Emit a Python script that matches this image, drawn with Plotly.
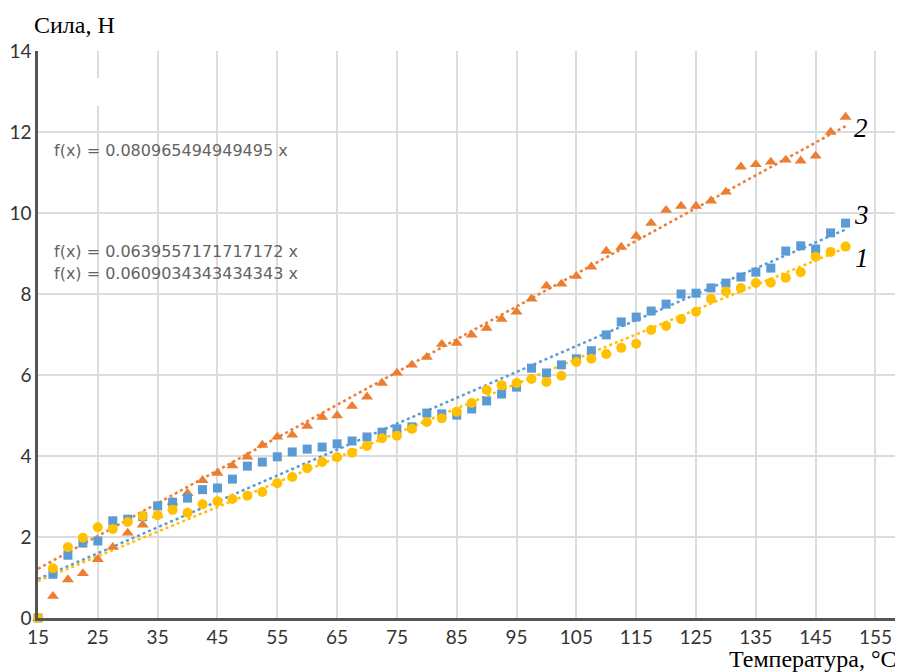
import plotly.graph_objects as go

x_vals = [15 + 2.5 * i for i in range(55)]

force_1 = [0, 1.23, 1.75, 1.98, 2.24, 2.2, 2.37, 2.52, 2.54, 2.67, 2.6, 2.81,
           2.88, 2.94, 3.02, 3.11, 3.33, 3.48, 3.7, 3.85, 3.97, 4.08, 4.25,
           4.44, 4.5, 4.67, 4.84, 4.93, 5.09, 5.31, 5.63, 5.75, 5.8, 5.9, 5.83,
           5.98, 6.32, 6.4, 6.52, 6.67, 6.77, 7.11, 7.21, 7.38, 7.56, 7.88, 8.06,
           8.15, 8.27, 8.28, 8.4, 8.54, 8.92, 9.04, 9.17]

force_2 = [0, 0.54, 0.95, 1.1, 1.45, 1.75, 2.1, 2.3, 2.54, 2.86, 3.08, 3.4,
           3.58, 3.76, 3.98, 4.27, 4.47, 4.52, 4.74, 4.96, 5.0, 5.23, 5.46,
           5.8, 6.05, 6.25, 6.44, 6.76, 6.79, 6.99, 7.16, 7.38, 7.56, 7.88, 8.2,
           8.25, 8.44, 8.67, 9.06, 9.16, 9.43, 9.75, 10.07, 10.17, 10.17, 10.3, 10.52,
           11.14, 11.2, 11.26, 11.31, 11.29, 11.41, 12.0, 12.37]

force_3 = [0, 1.08, 1.55, 1.85, 1.9, 2.4, 2.44, 2.5, 2.77, 2.86, 2.96, 3.17,
           3.21, 3.43, 3.75, 3.85, 3.98, 4.1, 4.17, 4.22, 4.3, 4.37, 4.47,
           4.59, 4.67, 4.72, 5.06, 5.04, 5.01, 5.16, 5.36, 5.53, 5.7, 6.17, 6.05,
           6.25, 6.4, 6.6, 6.99, 7.31, 7.43, 7.58, 7.75, 8.0, 8.02, 8.15, 8.27,
           8.42, 8.54, 8.64, 9.06, 9.19, 9.11, 9.51, 9.75]

slope_1 = 0.0609034343434343
slope_2 = 0.080965494949495
slope_3 = 0.0639557171717172

trend_x = [15, 150]

x_ticks = list(range(15, 156, 10))
y_ticks = list(range(0, 15, 2))

c_orange = "#ED7D31"
c_blue = "#5B9BD5"
c_yellow = "#FFC000"

fig = go.Figure()

for slope, col in [(slope_2, c_orange), (slope_3, c_blue), (slope_1, c_yellow)]:
    fig.add_trace(go.Scatter(
        x=trend_x, y=[slope * t for t in trend_x], mode="lines",
        line=dict(color=col, width=2.5, dash="dot"), showlegend=False,
        hoverinfo="skip"))

fig.add_trace(go.Scatter(x=x_vals, y=force_2, mode="markers",
                         marker=dict(symbol="triangle-up", size=10.5, color=c_orange),
                         cliponaxis=False, showlegend=False))
fig.add_trace(go.Scatter(x=x_vals, y=force_3, mode="markers",
                         marker=dict(symbol="square", size=9, color=c_blue),
                         cliponaxis=False, showlegend=False))
fig.add_trace(go.Scatter(x=x_vals, y=force_1, mode="markers",
                         marker=dict(symbol="circle", size=10, color=c_yellow),
                         cliponaxis=False, showlegend=False))

# page body has an 8px margin, so the figure is shrunk by 8px and offsets reduced
fig.update_layout(
    width=895, height=664,
    margin=dict(l=30, r=0, t=43, b=54, pad=0),
    paper_bgcolor="white", plot_bgcolor="white",
    xaxis=dict(range=[15, 159.6], tickmode="array", tickvals=x_ticks,
               ticktext=[str(v) for v in x_ticks],
               showgrid=True, gridcolor="#dcdcdc", gridwidth=1.5,
               showline=True, linecolor="#555555", linewidth=2.5,
               zeroline=False, ticks="",
               tickfont=dict(family="Lato", size=19, color="#333333")),
    yaxis=dict(range=[0, 14], tickmode="array", tickvals=y_ticks,
               ticktext=[str(v) for v in y_ticks],
               showgrid=True, gridcolor="#dcdcdc", gridwidth=1.5,
               showline=True, linecolor="#555555", linewidth=2.5,
               zeroline=False, ticks="",
               tickfont=dict(family="Lato", size=19, color="#333333")),
    shapes=[dict(type="rect", xref="x", yref="y", x0=21, x1=31, y0=12.65, y1=13.33,
                 fillcolor="white", line=dict(width=0), layer="between")],
)

ann_font = dict(family="DejaVu Sans", size=16, color="#636363")
fig.add_annotation(x=17.3, y=11.55, xref="x", yref="y", xanchor="left", yanchor="middle",
                   text="f(x) = 0.080965494949495 x", showarrow=False, font=ann_font)
fig.add_annotation(x=17.3, y=9.06, xref="x", yref="y", xanchor="left", yanchor="middle",
                   text="f(x) = 0.0639557171717172 x", showarrow=False, font=ann_font)
fig.add_annotation(x=17.3, y=8.5, xref="x", yref="y", xanchor="left", yanchor="middle",
                   text="f(x) = 0.0609034343434343 x", showarrow=False, font=ann_font)

lab_font = dict(family="Liberation Serif", size=27, color="black")
for lx, ly, txt in [(151.0, 12.1, "<i>2</i>"), (151.0, 9.95, "<i>3</i>"), (151.3, 8.9, "<i>1</i>")]:
    fig.add_annotation(x=lx, y=ly, xref="x", yref="y", xanchor="left", yanchor="middle",
                       text=txt, showarrow=False, font=lab_font)

title_font = dict(family="Liberation Serif", size=24, color="black")
plot_w, plot_h = 865.0, 567.0
fig.add_annotation(x=(32 - 38) / plot_w, y=(618 - 25) / plot_h, xref="paper", yref="paper",
                   xanchor="left", yanchor="middle", text="Сила, Н",
                   showarrow=False, font=title_font)
fig.add_annotation(x=(899 - 38) / plot_w, y=(618 - 659) / plot_h, xref="paper", yref="paper",
                   xanchor="right", yanchor="middle", text="Температура, °C",
                   showarrow=False, font=title_font)

fig.write_html("out.html")
